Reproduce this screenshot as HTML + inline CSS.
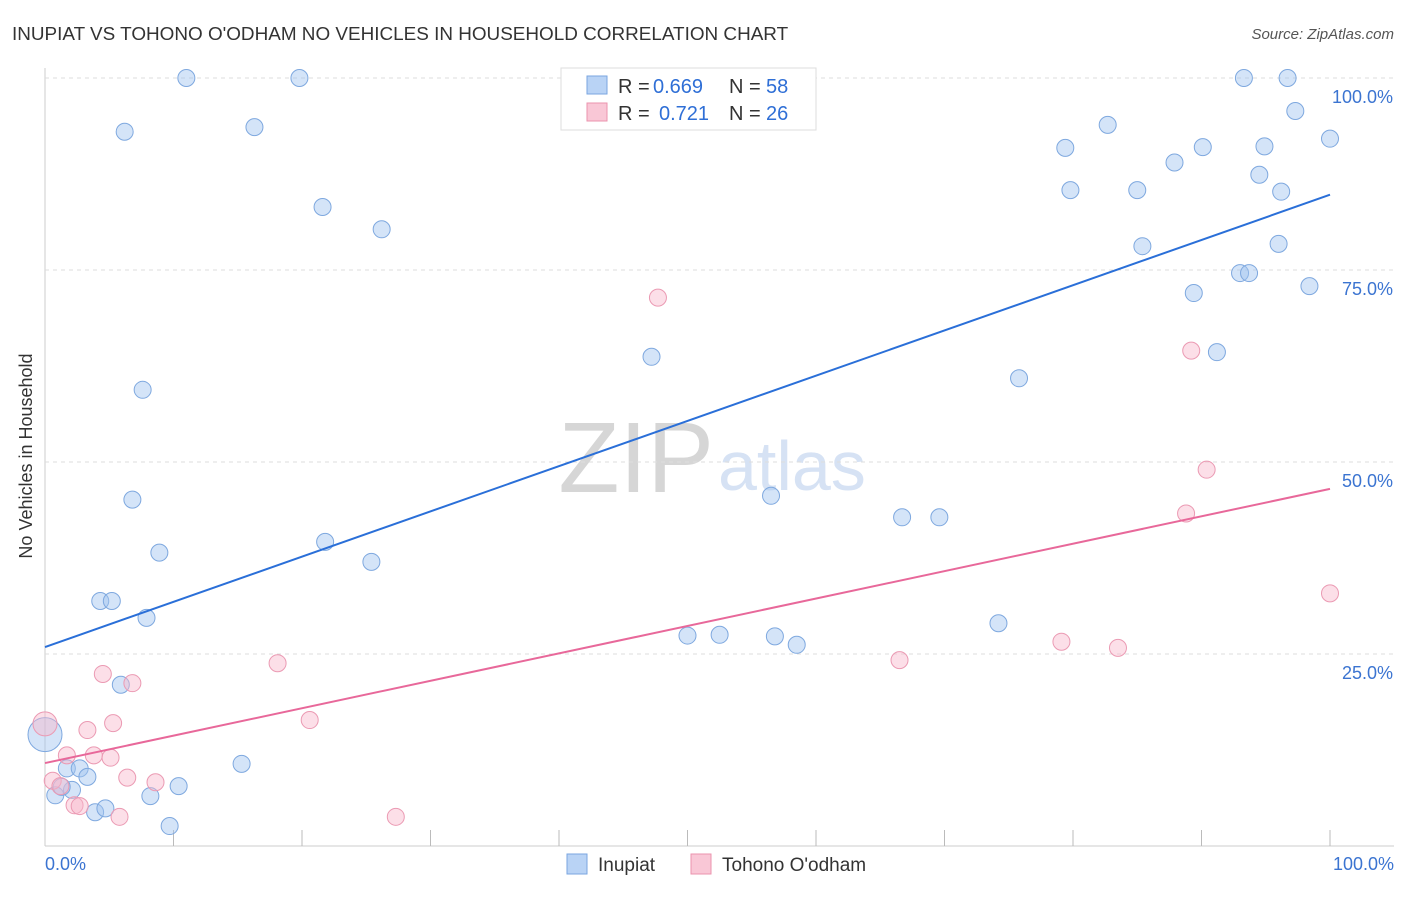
<!DOCTYPE html>
<html><head><meta charset="utf-8"><style>
body{margin:0;background:#fff;font-family:"Liberation Sans",sans-serif}
svg text{font-family:"Liberation Sans",sans-serif}
</style></head><body>
<svg id="c" width="1406" height="892">
<text x="12" y="40" font-size="18.9" fill="#333">INUPIAT VS TOHONO O'ODHAM NO VEHICLES IN HOUSEHOLD CORRELATION CHART</text>
<text x="1394" y="39" font-size="15" fill="#555" text-anchor="end" font-style="italic">Source: ZipAtlas.com</text>
<text x="32" y="456" font-size="18" fill="#333" text-anchor="middle" transform="rotate(-90 32 456)">No Vehicles in Household</text>
<text x="714" y="492" font-size="100" fill="#d6d6d6" text-anchor="end" font-family="Liberation Serif">ZIP</text>
<text x="718" y="490" font-size="70" fill="#d6e2f4">atlas</text>
<g id="grid"></g><g id="marks"></g>
<g>
<rect x="561" y="68" width="255" height="62" fill="#fff" stroke="#ddd"/>
<rect x="587" y="76" width="20" height="18" fill="#b9d3f5" stroke="#7aa6e0"/>
<text x="618" y="93" font-size="20" fill="#333">R =</text>
<text x="653" y="93" font-size="20" fill="#2f6fd6">0.669</text>
<text x="729" y="93" font-size="20" fill="#333">N =</text>
<text x="766" y="93" font-size="20" fill="#2f6fd6">58</text>
<rect x="587" y="103" width="20" height="18" fill="#f9c7d6" stroke="#eb93ae"/>
<text x="618" y="120" font-size="20" fill="#333">R =</text>
<text x="659" y="120" font-size="20" fill="#2f6fd6">0.721</text>
<text x="729" y="120" font-size="20" fill="#333">N =</text>
<text x="766" y="120" font-size="20" fill="#2f6fd6">26</text>
</g>
<g>
<rect x="567" y="854" width="20" height="20" fill="#b9d3f5" stroke="#7aa6e0"/>
<text x="598" y="871" font-size="19" fill="#333">Inupiat</text>
<rect x="691" y="854" width="20" height="20" fill="#f9c7d6" stroke="#eb93ae"/>
<text x="722" y="871" font-size="19" fill="#333">Tohono O'odham</text>
</g>
</svg>
<script>
const blueX=[0,0.8,1.7,2.1,1.3,2.7,3.3,3.9,4.7,4.3,5.2,5.9,6.8,6.2,7.6,7.9,8.2,8.9,9.7,10.4,11,15.3,16.3,19.8,21.6,21.8,25.4,26.2,47.2,50.0,52.5,56.5,56.8,58.5,66.7,69.6,74.2,75.8,79.4,79.8,82.7,85.0,85.4,87.9,89.4,90.1,91.2,93.0,93.7,93.3,94.5,94.9,96.2,96,96.7,97.3,98.4,100];
const blueY=[14.5,6.6,10.1,7.3,7.7,10.1,9.0,4.4,4.9,31.9,31.9,21,45.1,93,59.4,29.7,6.5,38.2,2.6,7.8,100,10.7,93.6,100,83.2,39.6,37,80.3,63.7,27.4,27.5,45.6,27.3,26.2,42.8,42.8,29,60.9,90.9,85.4,93.9,85.4,78.1,89,72,91,64.3,74.6,74.6,100,87.4,91.1,85.2,78.4,100,95.7,72.9,92.1];
const pinkX=[0,0.6,1.2,1.7,2.3,2.7,3.3,3.8,4.5,5.1,5.3,5.8,6.4,6.8,8.6,18.1,20.6,27.3,47.7,66.5,79.1,83.5,88.8,89.2,90.4,100];
const pinkY=[15.9,8.5,7.8,11.8,5.3,5.2,15.1,11.8,22.4,11.5,16,3.8,8.9,21.2,8.3,23.8,16.4,3.8,71.4,24.2,26.6,25.8,43.3,64.5,49,32.9];
const blueLine=[25.9,84.8], pinkLine=[10.8,46.5];
const yTicks=[25,50,75,100], xTickVals=[10,20,30,40,50,60,70,80,90,100];
const X=v=>45+v*12.85, Y=v=>846-v*7.68;
const NS="http://www.w3.org/2000/svg";
function mk(p,t,a){const e=document.createElementNS(NS,t);for(const k in a)e.setAttribute(k,a[k]);p.appendChild(e);return e;}
const g=document.getElementById('grid'), m=document.getElementById('marks');
mk(g,'line',{x1:45,y1:68,x2:45,y2:846,stroke:'#ccc'});
mk(g,'line',{x1:45,y1:846,x2:1394,y2:846,stroke:'#ccc'});
yTicks.forEach(v=>{
 const l=mk(g,'line',{x1:45,y1:Y(v),x2:1394,y2:Y(v),stroke:'#ddd','stroke-dasharray':'4 4'});
 
 
 const t=mk(g,'text',{x:1393,y:Y(v)+25,'font-size':18,fill:'#3b74d1','text-anchor':'end'});t.textContent=v.toFixed(1)+'%';
 
 
});
xTickVals.forEach(v=>{
 const l=mk(g,'line',{x1:X(v),y1:830,x2:X(v),y2:846,stroke:'#bbb'});
 
 
});
[[0,'0.0%',45,'start'],[100,'100.0%',1394,'end']].forEach(a=>{
 const t=mk(g,'text',{x:a[2],y:870,'font-size':18,fill:'#3b74d1','text-anchor':a[3]});t.textContent=a[1];
 
 
});
blueX.forEach((x,i)=>{
 const c=mk(m,'circle',{cx:X(x),cy:Y(blueY[i]),r:i==0?17:8.5,fill:'rgba(160,195,240,0.45)',stroke:'#7ea8df','stroke-width':1});
 
 
});
pinkX.forEach((x,i)=>{
 const c=mk(m,'circle',{cx:X(x),cy:Y(pinkY[i]),r:i==0?12:8.5,fill:'rgba(248,185,205,0.45)',stroke:'#eb9ab3','stroke-width':1});
 
 
});
const bl=mk(m,'line',{x1:X(0),y1:Y(blueLine[0]),x2:X(100),y2:Y(blueLine[1]),stroke:'#2a6fd8','stroke-width':2});


const pl=mk(m,'line',{x1:X(0),y1:Y(pinkLine[0]),x2:X(100),y2:Y(pinkLine[1]),stroke:'#e8689a','stroke-width':2});


</script>
</body></html>
